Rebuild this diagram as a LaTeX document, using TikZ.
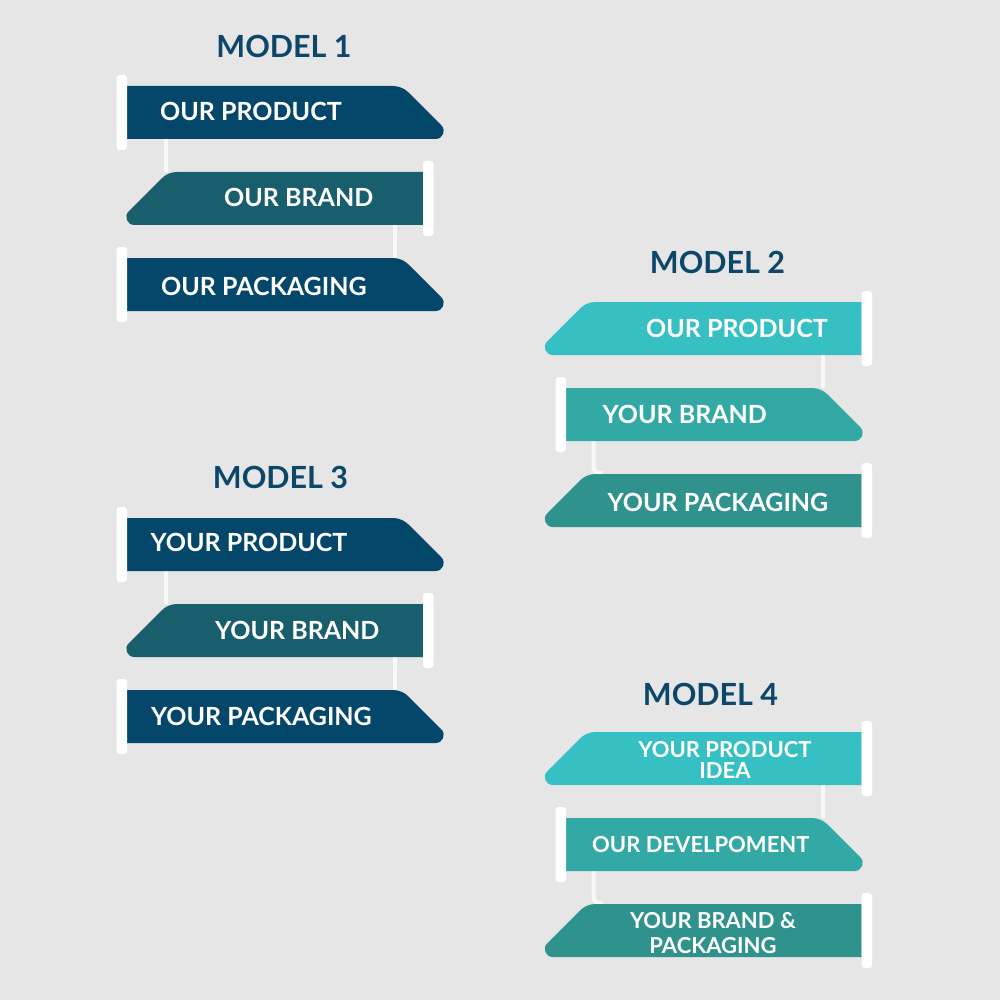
\documentclass[tikz,border=0pt]{standalone}
\usepackage{fontspec}
\setmainfont{Lato}
\usetikzlibrary{positioning,calc}

\definecolor{paper}{RGB}{230,230,230}
\definecolor{navy}{RGB}{5,71,107}
\definecolor{deepteal}{RGB}{25,94,108}
\definecolor{titleblue}{RGB}{12,70,104}
\definecolor{aqua}{RGB}{54,192,196}
\definecolor{sea}{RGB}{51,169,166}
\definecolor{pine}{RGB}{47,146,140}
\definecolor{linkwhite}{RGB}{248,248,248}

\tikzset{
  bar/.style={rectangle, inner sep=0pt, outer sep=0pt, minimum height=53pt},
  barwide/.style={bar, minimum width=317pt},
  barnarrow/.style={bar, minimum width=297pt},
  peg/.style={fill=white, rounded corners=3pt, minimum width=10.5pt, minimum height=75pt, inner sep=0pt, outer sep=0pt},
  joiner/.style={draw=linkwhite, line width=4pt},
  heading/.style={text=titleblue, font=\bfseries\fontsize{30.5}{32}\selectfont, inner sep=0pt, anchor=base},
  bartext/.style={text=white, font=\bfseries\fontsize{25}{30}\selectfont, inner sep=0pt, anchor=base west},
  smalltext/.style={text=white, font=\bfseries\fontsize{22}{24}\selectfont, inner sep=0pt}
}

\begin{document}
\begin{tikzpicture}[x=1pt, y=-1pt]
\useasboundingbox (0,0) rectangle (1000,1000);
\fill[paper] (0,0) rectangle (1000,1000);

\node[heading] (h1) at (284,58) {MODEL 1};
\node[heading] (h2) at (717.5,273) {MODEL 2};
\node[heading] (h3) at (280.5,488) {MODEL 3};
\node[heading] (h4) at (710.5,705) {MODEL 4};

\node[barwide] (m1a) at (285.5,112.5) {};
\node[barnarrow] (m1b) at (274.5,198.5) {};
\node[barwide] (m1c) at (285.5,284.5) {};
\node[barwide] (m3a) at (285.5,544.5) {};
\node[barnarrow] (m3b) at (274.5,630.5) {};
\node[barwide] (m3c) at (285.5,716.5) {};
\node[barwide] (m2a) at (703,328.5) {};
\node[barnarrow] (m2b) at (714.5,414.5) {};
\node[barwide] (m2c) at (703,500.5) {};
\node[barwide] (m4a) at (703,758.5) {};
\node[barnarrow] (m4b) at (714.5,844.5) {};
\node[barwide] (m4c) at (703,930.5) {};

\draw[joiner] ($(m1a.south west)+(39,0)$) -- ($(m1b.north west)+(40,0)$);
\draw[joiner] ($(m1b.south east)+(-28,0)$) -- ($(m1c.north east)+(-49,0)$);
\draw[joiner] ($(m3a.south west)+(39,0)$) -- ($(m3b.north west)+(40,0)$);
\draw[joiner] ($(m3b.south east)+(-28,0)$) -- ($(m3c.north east)+(-49,0)$);
\draw[joiner] ($(m2a.south east)+(-38.5,0)$) -- ($(m2b.north east)+(-40,0)$);
\draw[joiner, rounded corners=6pt] ($(m2b.south west)+(27.5,0)$) |- ($(m2c.north west)+(58,-1)$);
\draw[joiner] ($(m4a.south east)+(-38.5,0)$) -- ($(m4b.north east)+(-40,0)$);
\draw[joiner, rounded corners=6pt] ($(m4b.south west)+(27.5,0)$) |- ($(m4c.north west)+(58,-1)$);

% bars pointing right, peg on the left
\foreach \b/\c in {m1a/navy, m1c/navy, m3a/navy, m3c/navy, m2b/sea, m4b/sea}{
  \fill[\c] (\b.south west) -- (\b.north west) -- ([shift={(-51.1pt,0pt)}]\b.north east)
    .. controls ([shift={(-45.3pt,0pt)}]\b.north east) and ([shift={(-39.7pt,-2.3pt)}]\b.north east)
    .. ([shift={(-35.6pt,-6.4pt)}]\b.north east) -- ([shift={(-2.65pt,-39.35pt)}]\b.north east)
    .. controls ([shift={(2.39pt,-44.39pt)}]\b.north east) and ([shift={(-1.17pt,-53pt)}]\b.north east)
    .. ([shift={(-8.3pt,-53pt)}]\b.north east) -- cycle;
  \node[peg, left=0pt of \b] (k\b) {};
}
% bars pointing left, peg on the right
\foreach \b/\c in {m1b/deepteal, m3b/deepteal, m2a/aqua, m2c/pine, m4a/aqua, m4c/pine}{
  \fill[\c] (\b.south east) -- (\b.north east) -- ([shift={(51.1pt,0pt)}]\b.north west)
    .. controls ([shift={(45.3pt,0pt)}]\b.north west) and ([shift={(39.7pt,-2.3pt)}]\b.north west)
    .. ([shift={(35.6pt,-6.4pt)}]\b.north west) -- ([shift={(2.65pt,-39.35pt)}]\b.north west)
    .. controls ([shift={(-2.39pt,-44.39pt)}]\b.north west) and ([shift={(1.17pt,-53pt)}]\b.north west)
    .. ([shift={(8.3pt,-53pt)}]\b.north west) -- cycle;
  \node[peg, right=0pt of \b] (k\b) {};
}

\node[bartext] (t1a) at (160,121) {OUR PRODUCT};
\node[bartext] (t1b) at (224,207) {OUR BRAND};
\node[bartext] (t1c) at (161,295) {OUR PACKAGING};
\node[bartext] (t3a) at (150.5,551) {YOUR PRODUCT};
\node[bartext] (t3b) at (215,639) {YOUR BRAND};
\node[bartext] (t3c) at (151,725) {YOUR PACKAGING};
\node[bartext] (t2a) at (646,337) {OUR PRODUCT};
\node[bartext] (t2b) at (602.5,423) {YOUR BRAND};
\node[bartext] (t2c) at (607.5,511) {YOUR PACKAGING};
\node[smalltext, anchor=north, align=center, font=\bfseries\fontsize{22}{21}\selectfont] (t4a) at (725,741) {YOUR PRODUCT\\IDEA};
\node[smalltext, anchor=base west] (t4b) at (592,852) {OUR DEVELPOMENT};
\node[smalltext, anchor=north, align=center, font=\bfseries\fontsize{22}{25.5}\selectfont] (t4c) at (713,912) {YOUR BRAND \&\\PACKAGING};
\end{tikzpicture}
\end{document}
